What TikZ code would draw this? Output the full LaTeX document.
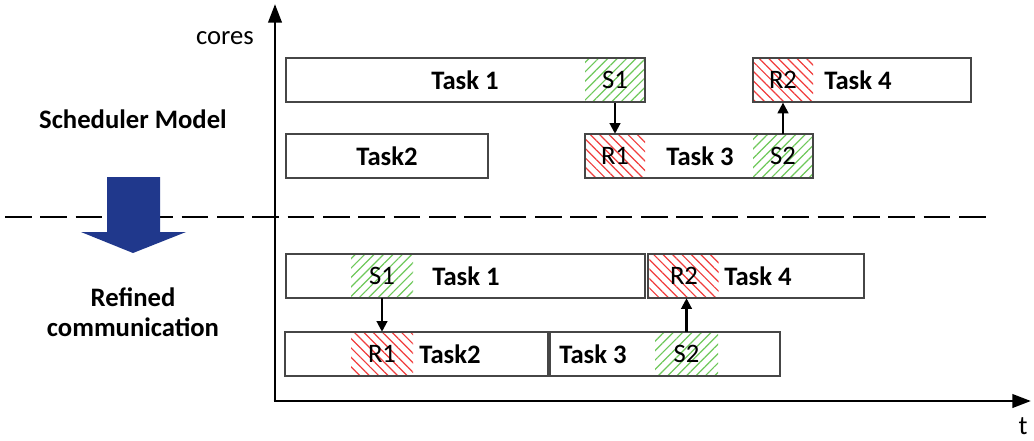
\documentclass[tikz,border=0pt]{standalone}
\usepackage{fontspec}
\setmainfont{Carlito}
\usetikzlibrary{positioning, arrows.meta, patterns.meta}

\definecolor{boxgray}{RGB}{70,70,70}
\definecolor{hatchgreen}{RGB}{110,200,90}
\definecolor{hatchred}{RGB}{240,60,60}
\definecolor{refblue}{RGB}{32,56,140}

\tikzset{
  taskbox/.style={draw=boxgray, line width=0.8pt, minimum height=33pt, inner sep=0pt},
  sendbox/.style={pattern={Lines[angle=45,distance=5pt,line width=0.9pt]}, pattern color=hatchgreen,
    minimum height=33pt, inner sep=0pt, font=\fontsize{20}{24}\selectfont},
  recvbox/.style={pattern={Lines[angle=-45,distance=5pt,line width=0.9pt]}, pattern color=hatchred,
    minimum height=33pt, inner sep=0pt, font=\fontsize{20}{24}\selectfont},
  tasklabel/.style={font=\fontsize{20}{24}\selectfont\bfseries, inner sep=0pt},
  msgarrow/.style={line width=1.6pt, -{Triangle[length=8pt,width=8pt]}},
  axisarrow/.style={line width=2.2pt, -{Triangle[length=14pt,width=10pt]}}
}

\begin{document}
\begin{tikzpicture}[x=0.75pt, y=-0.75pt]
\useasboundingbox (0,0) rectangle (1034,440);

% axes
\coordinate (origin) at (275,401);
\coordinate (ytip) at (275,4);
\coordinate (xtip) at (1031,401);
\draw[axisarrow] (origin) -- (ytip);
\draw[axisarrow] ([xshift=-1.1pt]origin) -- (xtip);
\node[font=\fontsize{20}{24}\selectfont] (cores) at (225,38) {cores};
\node[font=\fontsize{20}{24}\selectfont, inner sep=0pt] (tlabel) at (1023,426) {t};

% separation line
\coordinate (sepl) at (5,217);
\coordinate (sepr) at (990,217);
\draw[line width=1pt, dash pattern=on 20pt off 6.5pt] (sepl) -- (sepr);

% left labels and refinement arrow
\node[tasklabel] (sched) at (133,119) {Scheduler Model};
\node[tasklabel, align=center, font=\fontsize{20}{22.5}\selectfont\bfseries] (refined) at (133,312) {Refined\\communication};
\fill[refblue] (107,177) -- (160,177) -- (160,232) -- (186,232) -- (133,253)
  -- (81,232) -- (107,232) -- cycle;

% scheduler model: hatched parts
\node[sendbox, minimum width=45pt] (tops1) at (615,80) {S1};
\node[recvbox, minimum width=45pt] (topr2) at (783,80) {R2};
\node[recvbox, minimum width=45pt] (topr1) at (615,156) {R1};
\node[sendbox, minimum width=45pt] (tops2) at (783,156) {S2};

% scheduler model: tasks
\node[taskbox, minimum width=269.25pt] (top1) at (465.5,80) {};
\node[taskbox, minimum width=163.5pt] (top4) at (862,80) {};
\node[taskbox, minimum width=151.5pt] (top2) at (387,156) {};
\node[taskbox, minimum width=171pt] (top3) at (699,156) {};
\node[tasklabel] at (465,80) {Task 1};
\node[tasklabel] at (858,80) {Task 4};
\node[tasklabel] at (387,156) {Task2};
\node[tasklabel] at (700,156) {Task 3};

\draw[msgarrow] (tops1.south) -- (topr1.north);
\draw[msgarrow] (tops2.north) -- (topr2.south);

% refined communication: hatched parts
\node[sendbox, minimum width=46.5pt] (bots1) at (382,276) {S1};
\node[recvbox, minimum width=52pt] (botr2) at (684,276) {R2};
\node[recvbox, minimum width=46.5pt] (botr1) at (382,354) {R1};
\node[sendbox, minimum width=47.25pt] (bots2) at (686.5,354) {S2};

% refined communication: tasks
\node[taskbox, minimum width=269.25pt] (bot1) at (465.5,276) {};
\node[taskbox, minimum width=162pt] (bot4) at (756,276) {};
\node[taskbox, minimum width=197.25pt] (bot2) at (416.5,354) {};
\node[taskbox, minimum width=172.5pt] (bot3) at (665,354) {};
\node[tasklabel] at (466,276) {Task 1};
\node[tasklabel] at (758,276) {Task 4};
\node[tasklabel] at (450,354) {Task2};
\node[tasklabel] at (593,354) {Task 3};

\draw[msgarrow] (bots1.south) -- (botr1.north);
\draw[msgarrow] (bots2.north) -- (bots2.north |- botr2.south);

\end{tikzpicture}
\end{document}
